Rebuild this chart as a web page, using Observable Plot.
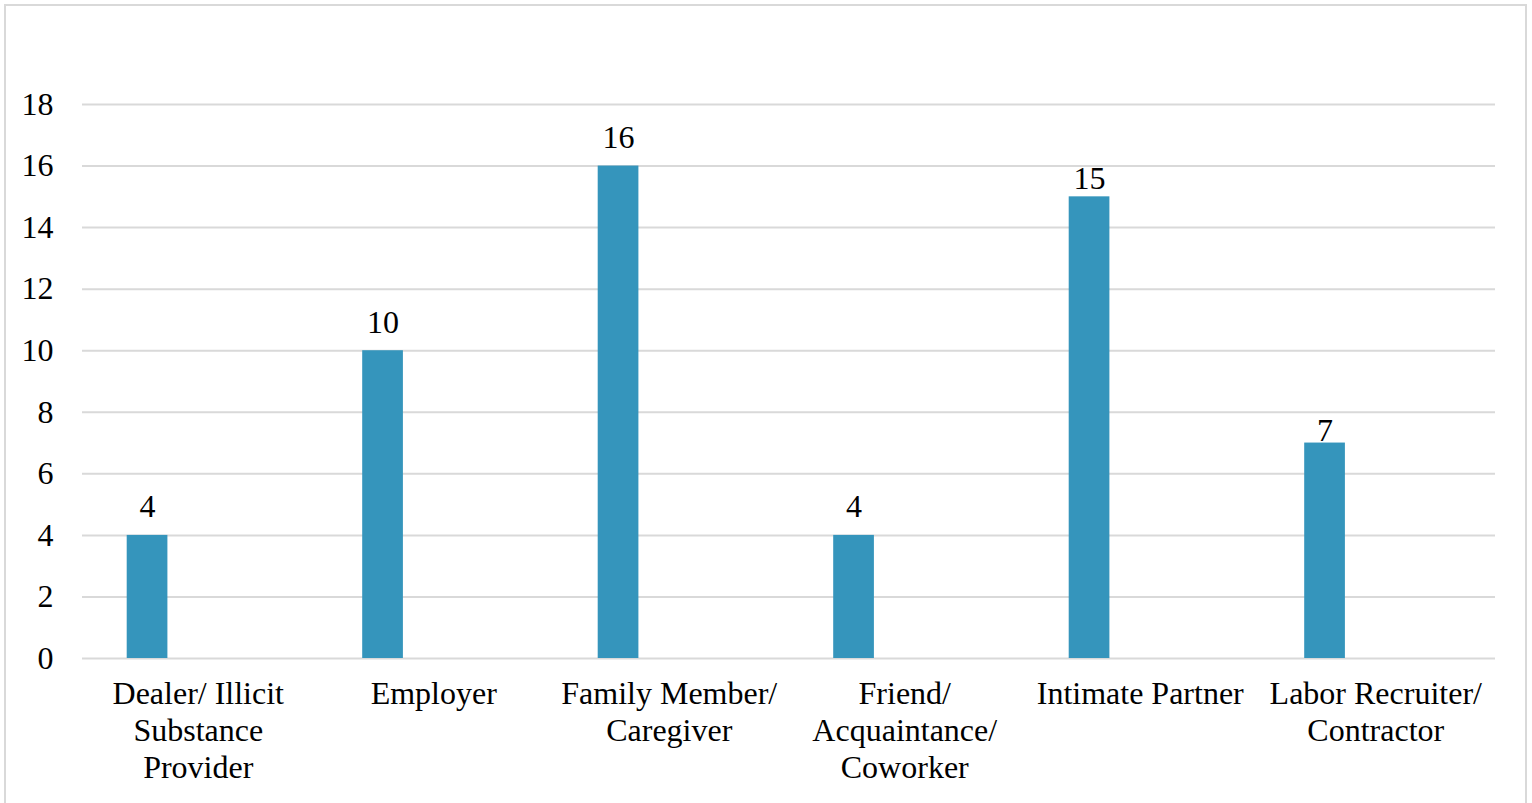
<!DOCTYPE html>
<html>
<head>
<meta charset="utf-8">
<script src="https://cdn.jsdelivr.net/npm/d3@7"></script>
<script src="https://cdn.jsdelivr.net/npm/@observablehq/plot@0.6"></script>
<style>
  html, body { margin: 0; padding: 0; background: #fff; }
  #wrap { position: relative; width: 1532px; height: 803px; overflow: hidden; }
  #border { position: absolute; left: 4px; top: 4px; width: 1519px; height: 820px; border: 2px solid #d9d9d9; pointer-events: none; }
</style>
</head>
<body>
<div id="wrap"><div id="chart"></div><div id="border"></div></div>
<script>
const categories = [
  "Dealer/ Illicit Substance Provider",
  "Employer",
  "Family Member/ Caregiver",
  "Friend/ Acquaintance/ Coworker",
  "Intimate Partner",
  "Labor Recruiter/ Contractor"
];
const labelLines = [
  "Dealer/ Illicit\nSubstance\nProvider",
  "Employer",
  "Family Member/\nCaregiver",
  "Friend/\nAcquaintance/\nCoworker",
  "Intimate Partner",
  "Labor Recruiter/\nContractor"
];
const values = [4, 10, 16, 4, 15, 7];
const yTicks = [0, 2, 4, 6, 8, 10, 12, 14, 16, 18];

const data = categories.map((c, i) => ({category: c, value: values[i]}));
const labelMap = new Map(categories.map((c, i) => [c, labelLines[i]]));

const width = 1532, height = 803;
const marginLeft = 82, marginRight = 37, marginTop = 104, marginBottom = 145;
const bandW = (width - marginLeft - marginRight) / categories.length;
const barLeft = 44.7, barWidth = 40.7;
const barCenterOffset = barLeft + barWidth / 2 - bandW / 2;
const fs = 32;

// In the reference, the labels of the "Intimate Partner" and "Labor Recruiter" bars sit closer to their bars
const closeLabel = new Set([categories[4]]);
const touchLabel = new Set([categories[5]]);
const textStyle = {x: "category", y: "value", text: d => String(d.value), dx: barCenterOffset, lineAnchor: "bottom", fill: "#000", fontSize: fs};

const chart = Plot.plot({
  width, height, marginLeft, marginRight, marginTop, marginBottom,
  style: {fontFamily: "'Liberation Serif', 'Times New Roman', serif", fontSize: fs + "px", color: "#000", background: "#fff"},
  x: {domain: categories, padding: 0, round: false, label: null},
  y: {domain: [0, 18], label: null},
  marks: [
    Plot.ruleY(yTicks, {stroke: "#d9d9d9", strokeWidth: 2, strokeOpacity: 1}),
    Plot.barY(data, {
      x: "category", y: "value", fill: "#3595bc",
      insetLeft: barLeft, insetRight: bandW - barLeft - barWidth
    }),
    Plot.text(data.filter(d => !closeLabel.has(d.category) && !touchLabel.has(d.category)), {...textStyle, dy: -18}),
    Plot.text(data.filter(d => closeLabel.has(d.category)), {...textStyle, dy: -8}),
    Plot.text(data.filter(d => touchLabel.has(d.category)), {...textStyle, dy: -2.5}),
    Plot.axisY({ticks: yTicks, tickSize: 0, tickPadding: 29, label: null, fontSize: fs, fill: "#000"}),
    Plot.axisX({tickSize: 0, tickPadding: 19, label: null, fontSize: fs, lineHeight: 1.16,
      tickFormat: d => labelMap.get(d), fill: "#000", dx: -2})
  ]
});
document.getElementById("chart").appendChild(chart);
</script>
</body>
</html>
